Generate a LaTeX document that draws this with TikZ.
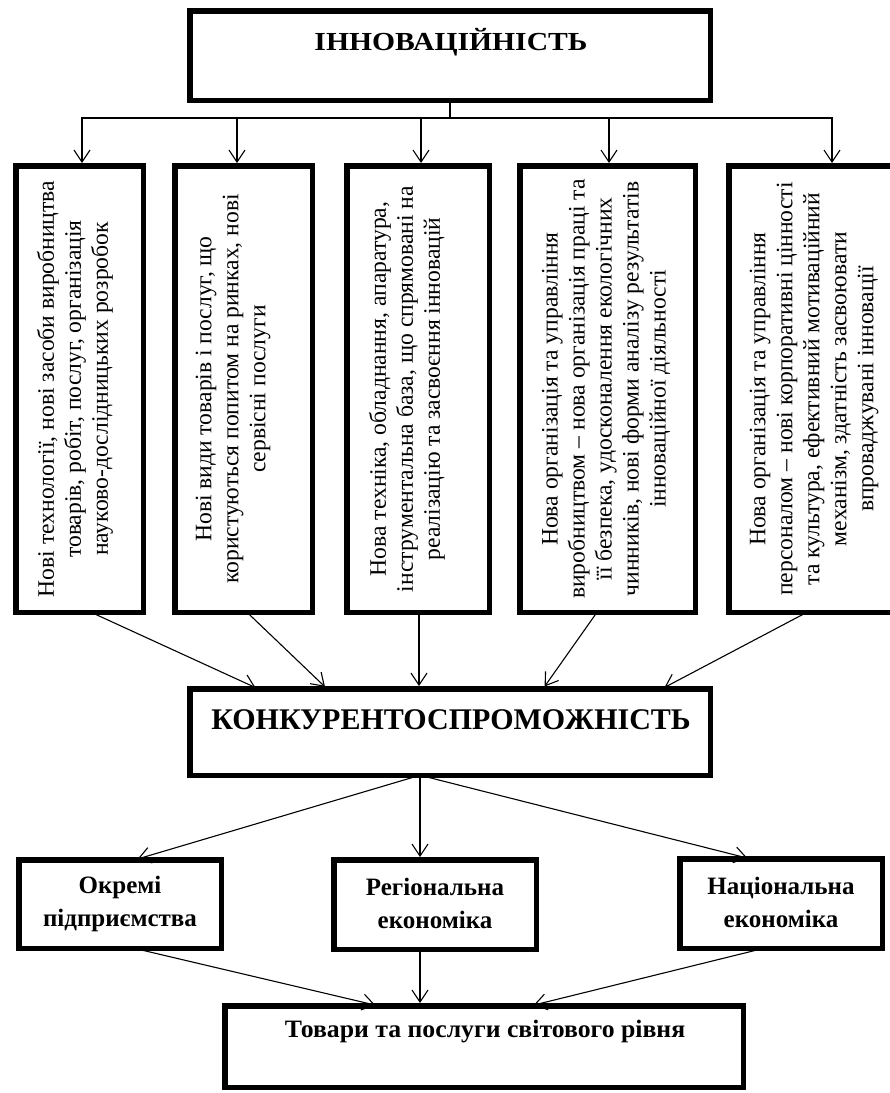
\documentclass[tikz,border=0pt]{standalone}
\usepackage{fontspec}
\setmainfont{Liberation Serif}
\usetikzlibrary{arrows.meta}
\begin{document}
\begin{tikzpicture}[x=1pt,y=-1pt,
  box/.style={draw, line width=5.5pt, inner sep=0pt, outer sep=0pt},
  arr/.style={-{Straight Barb[length=12pt,width=16pt,line width=1.1pt]}, line width=1.1pt, shorten >=2.75pt},
  ln/.style={line width=1.1pt},
  vtext/.style={rotate=90, align=center, font=\fontsize{23.6}{27}\selectfont, inner sep=0pt},
  rtext/.style={align=center, font=\bfseries\fontsize{25}{33}\selectfont, inner sep=0pt}
]
\useasboundingbox (0,0) rectangle (890,1093);
\clip (0,0) rectangle (890,1093);
\fill[white] (0,0) rectangle (890,1093);

% boxes
\node[box, minimum width=520.5pt, minimum height=89.5pt] (inn) at (450,55.5) {};
\node[box, minimum width=127.5pt, minimum height=446.5pt] (b1) at (79.5,389) {};
\node[box, minimum width=137.5pt, minimum height=446.5pt] (b2) at (243.5,389) {};
\node[box, minimum width=142.5pt, minimum height=446.5pt] (b3) at (418,389) {};
\node[box, minimum width=175.5pt, minimum height=446.5pt] (b4) at (607.5,389) {};
\node[box, minimum width=206.5pt, minimum height=446.5pt] (b5) at (832,389) {};
\node[box, minimum width=520.5pt, minimum height=86.5pt] (konk) at (450,732) {};
\node[box, minimum width=202.5pt, minimum height=88.5pt] (ra) at (120,904) {};
\node[box, minimum width=202.5pt, minimum height=89.5pt] (rb) at (435,904.5) {};
\node[box, minimum width=202.5pt, minimum height=89.5pt] (rc) at (781,903.5) {};
\node[box, minimum width=518.5pt, minimum height=81.5pt] (bot) at (484,1046.5) {};

% texts
\node[font=\bfseries\fontsize{26}{30}\selectfont, inner sep=0pt] (innt) at (451,42) {\scalebox{1.14}[1]{ІННОВАЦІЙНІСТЬ}};
\node[font=\bfseries\fontsize{30}{34}\selectfont, inner sep=0pt] (konkt) at (451,720) {КОНКУРЕНТОСПРОМОЖНІСТЬ};
\node[vtext] (t1) at (75,389) {Нові технології, нові засоби виробництва\\товарів, робіт, послуг, організація\\науково-дослідницьких розробок};
\node[vtext] (t2) at (233,389) {Нові види товарів і послуг, що\\користуються попитом на ринках, нові\\сервісні послуги};
\node[vtext] (t3) at (407,389) {Нова техніка, обладнання, апаратура,\\інструментальна база, що спрямовані на\\реалізацію та засвоєння інновацій};
\node[vtext] (t4) at (606,389) {Нова організація та управління\\виробництвом – нова організація праці та\\її безпека, удосконалення екологічних\\чинників, нові форми аналізу результатів\\інноваційної діяльності};
\node[vtext] (t5) at (814,389) {Нова організація та управління\\персоналом – нові корпоративні цінності\\та культура, ефективний мотиваційний\\механізм, здатність засвоювати\\впроваджувані інновації};
\node[rtext] (ta) at (120,903.5) {Окремі\\підприємства};
\node[rtext] (tb) at (435,903.5) {Регіональна\\економіка};
\node[rtext] (tc) at (781,902) {Національна\\економіка};
\node[font=\bfseries\fontsize{25}{29}\selectfont, inner sep=0pt] (tbot) at (485,1032) {\scalebox{1.03}[1]{Товари та послуги світового рівня}};

% connectors from top
\coordinate (hub) at (450,118);
\draw[ln] (inn.south) -- (hub);
\draw[arr] (hub) -| ([xshift=2.5pt]b1.north);
\draw[arr] (hub) -| ([xshift=-6.5pt]b2.north);
\draw[arr] (hub) -| ([xshift=3pt]b3.north);
\draw[arr] (hub) -| ([xshift=1.5pt]b4.north);
\draw[arr] (hub) -| (b5.north);

% to konk
\draw[arr] ([xshift=11.5pt]b1.south) -- ([xshift=-192pt]konk.north);
\draw[arr] ([xshift=3.5pt]b2.south) -- ([xshift=-123pt]konk.north);
\draw[arr] ([xshift=1pt]b3.south) -- ([xshift=-31pt]konk.north);
\draw[arr] ([xshift=-10.5pt]b4.south) -- ([xshift=93pt]konk.north);
\draw[arr] ([xshift=-25pt]b5.south) -- ([xshift=212pt]konk.north);

% konk to row
\draw[arr] ([xshift=-30pt]konk.south) -- ([xshift=15pt]ra.north);
\draw[arr] ([xshift=-30pt]konk.south) -- ([xshift=-15pt]rb.north);
\draw[arr] ([xshift=-30pt]konk.south) -- ([xshift=-31pt]rc.north);

% row to bottom
\draw[arr] ([xshift=14pt]ra.south) -- ([xshift=-106pt]bot.north);
\draw[arr] ([xshift=-15pt]rb.south) -- ([xshift=-64pt]bot.north);
\draw[arr] ([xshift=-17pt]rc.south) -- ([xshift=47pt]bot.north);
\end{tikzpicture}
\end{document}
